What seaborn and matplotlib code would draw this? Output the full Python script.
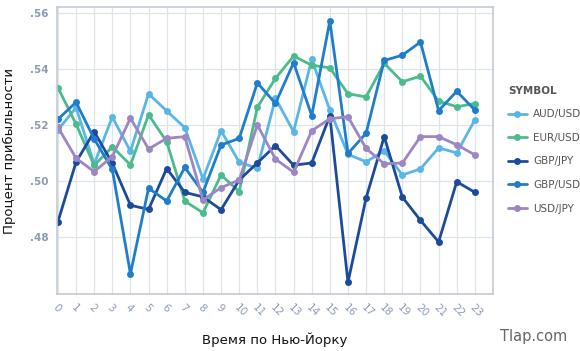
import matplotlib
matplotlib.use("Agg")
import matplotlib.pyplot as plt
import seaborn as sns
import pandas as pd
from matplotlib.ticker import FuncFormatter, FixedLocator

hours = list(range(24))
symbols = ["AUD/USD", "EUR/USD", "GBP/JPY", "GBP/USD", "USD/JPY"]

aud_usd = [0.5184, 0.5264, 0.5062, 0.5230, 0.5108, 0.5313, 0.5252, 0.5192,
           0.5009, 0.5181, 0.5069, 0.5047, 0.5297, 0.5178, 0.5436, 0.5255,
           0.5097, 0.5070, 0.5109, 0.5023, 0.5045, 0.5120, 0.5102, 0.5220]
eur_usd = [0.5335, 0.5205, 0.5057, 0.5124, 0.5059, 0.5238, 0.5142, 0.4930,
           0.4888, 0.5023, 0.4964, 0.5265, 0.5368, 0.5448, 0.5415, 0.5406,
           0.5313, 0.5302, 0.5422, 0.5356, 0.5376, 0.5287, 0.5267, 0.5278]
gbp_jpy = [0.4856, 0.5069, 0.5178, 0.5065, 0.4915, 0.4900, 0.5046, 0.4961,
           0.4945, 0.4899, 0.5005, 0.5066, 0.5128, 0.5058, 0.5066, 0.5234,
           0.4640, 0.4941, 0.5160, 0.4944, 0.4861, 0.4784, 0.4999, 0.4961]
gbp_usd = [0.5222, 0.5283, 0.5152, 0.5043, 0.4670, 0.4976, 0.4930, 0.5050,
           0.4961, 0.5130, 0.5154, 0.5352, 0.5279, 0.5424, 0.5235, 0.5573,
           0.5100, 0.5172, 0.5432, 0.5451, 0.5498, 0.5253, 0.5322, 0.5255]
usd_jpy = [0.5194, 0.5083, 0.5035, 0.5089, 0.5226, 0.5116, 0.5154, 0.5160,
           0.4934, 0.4978, 0.5005, 0.5202, 0.5080, 0.5033, 0.5181, 0.5224,
           0.5231, 0.5118, 0.5063, 0.5066, 0.5160, 0.5160, 0.5131, 0.5095]

colors = ["#5ab6e6", "#4cbb8c", "#1d4b9b", "#1f7dcc", "#9c86c4"]
y_ticks = [0.48, 0.50, 0.52, 0.54, 0.56]

series = [aud_usd, eur_usd, gbp_jpy, gbp_usd, usd_jpy]
df = pd.DataFrame({
    "hour": hours * len(symbols),
    "value": [v for s in series for v in s],
    "SYMBOL": [sym for sym in symbols for _ in hours],
})

sns.set_style("white")
plt.rcParams["font.family"] = ["DejaVu Sans"]

fig = plt.figure(figsize=(5.8, 3.51), dpi=100)
ax = fig.add_axes([0.0983, 0.1624, 0.7517, 0.8176])

sns.lineplot(data=df, x="hour", y="value", hue="SYMBOL", hue_order=symbols,
             palette=dict(zip(symbols, colors)), marker="o", markersize=5,
             markeredgewidth=0, linewidth=2, ax=ax)

ax.set_xlim(-0.05, 24.0)
ax.set_ylim(0.4598, 0.5623)
ax.xaxis.set_major_locator(FixedLocator(hours))
ax.yaxis.set_major_locator(FixedLocator(y_ticks))
ax.yaxis.set_major_formatter(FuncFormatter(lambda v, p: f"{v:.2f}".lstrip("0")))
ax.grid(True, color="#dfe3ea", linewidth=0.9)
ax.set_axisbelow(True)
for sp in ax.spines.values():
    sp.set_color("#c3cad6")
    sp.set_linewidth(1.2)
ax.tick_params(axis="both", colors="#c3cad6", length=3, width=1,
               labelcolor="#8d9bb3", labelsize=7.5, pad=3)
for lbl in ax.get_yticklabels():
    lbl.set_fontweight("bold")
plt.setp(ax.get_xticklabels(), rotation=-45, ha="left", rotation_mode="anchor")

ax.set_xlabel("Время по Нью-Йорку", fontsize=9.5, color="#111111", va="center")
ax.set_ylabel("Процент прибыльности", fontsize=9.5, color="#111111", va="center")
ax.xaxis.set_label_coords(0.5, -0.16)
ax.yaxis.set_label_coords(-0.108, 0.5)

leg = ax.legend(title="SYMBOL", loc="upper left", bbox_to_anchor=(1.025, 0.74),
                frameon=False, fontsize=7.5, title_fontsize=7.5, handlelength=1.8,
                handletextpad=0.6, labelspacing=1.3, alignment="left",
                borderaxespad=0)
leg.get_title().set_fontweight("bold")
leg.get_title().set_color("#555555")
for t in leg.get_texts():
    t.set_color("#555555")

fig.text(0.978, 0.04, "Tlap.com", ha="right", va="center", fontsize=10.5,
         color="#666666")

fig.savefig("out.png", dpi=100)
